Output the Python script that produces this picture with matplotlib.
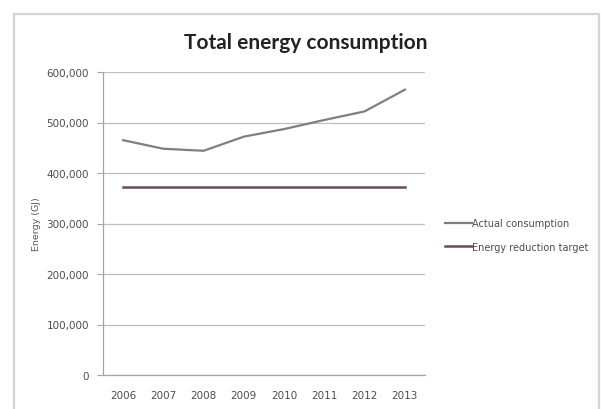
import matplotlib
matplotlib.use("Agg")
import matplotlib.pyplot as plt
from matplotlib.patches import Rectangle
from matplotlib.ticker import FuncFormatter, MultipleLocator

years = ["2006", "2007", "2008", "2009", "2010", "2011", "2012", "2013"]
actual_consumption = [465000, 448000, 444000, 472000, 487000, 505000, 522000, 565000]
reduction_target = [372000, 372000, 372000, 372000, 372000, 372000, 372000, 372000]

W, H = 601, 410
fig = plt.figure(figsize=(W / 100, H / 100), dpi=100)
fig.patch.set_facecolor("white")

# chart frame
fig.add_artist(Rectangle((14 / W, -0.05), (599 - 14) / W, (H - 15) / H + 0.05,
                         transform=fig.transFigure, fill=False,
                         edgecolor="#d4d4d4", linewidth=1.6))

left, right, top, bottom = 103, 425, 73, 376
ax = fig.add_axes([left / W, (H - bottom) / H, (right - left) / W, (bottom - top) / H])

x = list(range(len(years)))
l1, = ax.plot(x, actual_consumption, color="#7f7f7f", linewidth=1.6,
              label="Actual consumption")
l2, = ax.plot(x, reduction_target, color="#6e4a54", linewidth=1.8,
              label="Energy reduction target")

ax.set_xlim(-0.5, len(years) - 0.5)
ax.set_ylim(0, 600000)
ax.yaxis.set_major_locator(MultipleLocator(100000))
ax.yaxis.set_major_formatter(FuncFormatter(lambda v, p: "0" if v == 0 else f"{int(v):,}"))
ax.set_xticks(x)
ax.set_xticklabels(years)

ax.grid(axis="y", color="#bfbfbf", linewidth=0.9)
ax.set_axisbelow(True)
for s in ["top", "right"]:
    ax.spines[s].set_visible(False)
for s in ["left", "bottom"]:
    ax.spines[s].set_color("#a6a6a6")
    ax.spines[s].set_linewidth(0.9)

ax.tick_params(axis="y", length=4, color="#a6a6a6", labelsize=7.5,
               labelcolor="#4d4d4d", pad=6)
ax.tick_params(axis="x", length=0, labelsize=7.5, labelcolor="#4d4d4d", pad=11)
for t in ax.get_xticklabels() + ax.get_yticklabels():
    t.set_fontfamily("Liberation Sans Narrow")

ax.set_ylabel("Energy (GJ)", fontsize=6.8, color="#595959",
              fontfamily="Liberation Sans Narrow", labelpad=4)

fig.text(306 / W, 1 - 43 / H, "Total energy consumption", ha="center", va="center",
         fontsize=15, fontweight="bold", fontfamily="Lato", color="#222222")

fig.legend(handles=[l1, l2], loc="center left",
           bbox_to_anchor=(436 / W, 1 - 236 / H), frameon=False,
           prop={"family": "Liberation Sans Narrow", "size": 7.0},
           labelcolor="#4d4d4d", handlelength=2.8, handletextpad=0.0,
           labelspacing=1.4)

fig.savefig("out.png", dpi=100, facecolor="white")
